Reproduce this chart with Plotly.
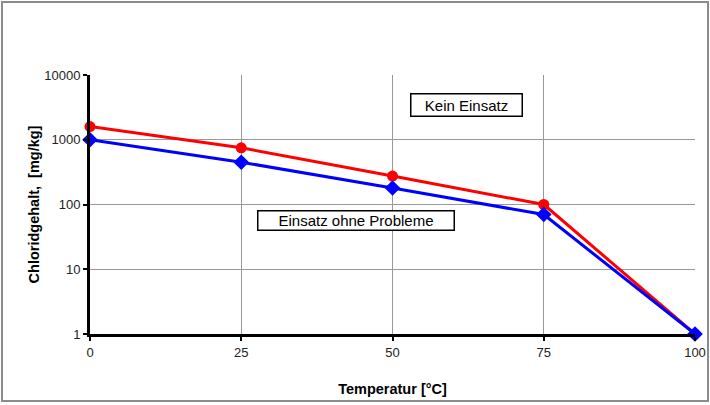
import plotly.graph_objects as go

temperature = [0, 25, 50, 75, 100]
kein_einsatz = [1600, 750, 275, 100, 1]
ohne_probleme = [1000, 450, 180, 70, 1]
x_ticks = [0, 25, 50, 75, 100]
y_ticks = [1, 10, 100, 1000, 10000]
y_ticktext = ["1", "10", "100", "1000", "10000"]

W, H = 710, 405
L, R, T, B = 90, 15, 75, 71
pw, ph = W - L - R, H - T - B

def px(xp):
    return (xp - L) / pw

def py(yp):
    return (H - B - yp) / ph

fig = go.Figure()
fig.add_trace(go.Scatter(
    x=temperature, y=kein_einsatz, mode="lines+markers",
    line=dict(color="#ff0000", width=3),
    marker=dict(symbol="circle", size=11, color="#ff0000"),
    cliponaxis=False, showlegend=False))
fig.add_trace(go.Scatter(
    x=temperature, y=ohne_probleme, mode="lines+markers",
    line=dict(color="#0000ff", width=3),
    marker=dict(symbol="diamond", size=12, color="#0000ff"),
    cliponaxis=False, showlegend=False))

font = dict(family="Liberation Sans, Arial, sans-serif", color="#000000")

fig.update_layout(
    width=W, height=H, autosize=False,
    margin=dict(l=L, r=R, t=T, b=B, autoexpand=False),
    paper_bgcolor="white", plot_bgcolor="white",
    font=dict(size=13, **font),
    xaxis=dict(range=[0, 100], tickvals=x_ticks, showgrid=True, automargin=False,
               gridcolor="#999999", gridwidth=1, zeroline=False,
               showline=True, linecolor="#000000", linewidth=3,
               ticks="outside", ticklen=4, tickwidth=2, tickcolor="#000000",
               tickfont=dict(size=13, color="#222222"),
               title=dict(text="<b>Temperatur [°C]</b>", font=dict(size=14.5), standoff=26)),
    yaxis=dict(type="log", range=[0, 4], tickvals=y_ticks, ticktext=y_ticktext,
               showgrid=True, gridcolor="#999999", gridwidth=1, zeroline=False,
               automargin=False,
               showline=True, linecolor="#000000", linewidth=3,
               ticks="outside", ticklen=4, tickwidth=2, tickcolor="#000000",
               tickfont=dict(size=13, color="#222222"),
               title=dict(text="<b>Chloridgehalt,  [mg/kg]</b>", font=dict(size=14.5), standoff=2)),
    annotations=[
        dict(x=62.3, y=3.537, xref="x", yref="y", text="Kein Einsatz",
             showarrow=False, font=dict(size=15, **font),
             bordercolor="#000000", borderwidth=1.5, borderpad=1,
             width=108, height=19, bgcolor="white"),
        dict(x=44.0, y=1.76, xref="x", yref="y", text="Einsatz ohne Probleme",
             showarrow=False, font=dict(size=15, **font),
             bordercolor="#000000", borderwidth=1.5, borderpad=1,
             width=193, height=16, bgcolor="white"),
    ],
    shapes=[
        dict(type="rect", xref="paper", yref="paper",
             x0=px(2), x1=px(708), y0=py(401), y1=py(2),
             line=dict(color="#8c8c8c", width=2), layer="below"),
    ],
)

fig.write_html("out.html",
               config={"displayModeBar": False, "responsive": False},
               post_script="document.body.style.margin='0';document.body.style.overflow='hidden';")
